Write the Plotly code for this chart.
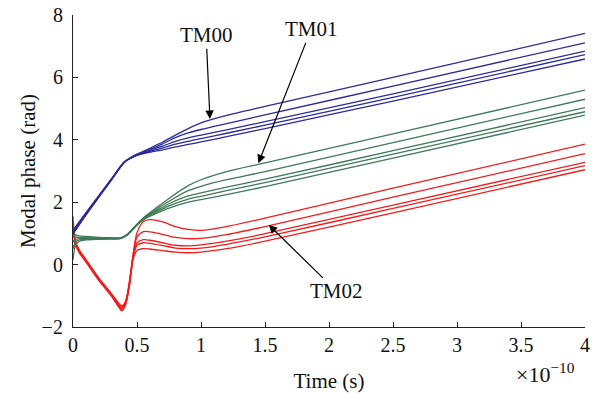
import plotly.graph_objects as go

# ---- data (time in units of 1e-10 s, phase in rad) ----
T_BLUE = [0, 0.1, 0.2, 0.3, 0.4, 0.45, 0.5, 0.6, 0.7, 0.8, 0.9, 1.0, 1.2, 1.5, 2.5, 4]
TM00 = [
    [0.98, 1.58, 2.15, 2.71, 3.27, 3.43, 3.54, 3.73, 3.93, 4.15, 4.36, 4.54, 4.78, 5.07, 6.00, 7.41],
    [1.01, 1.60, 2.17, 2.72, 3.28, 3.42, 3.53, 3.69, 3.87, 4.07, 4.22, 4.33, 4.52, 4.80, 5.72, 7.11],
    [1.04, 1.62, 2.18, 2.73, 3.28, 3.42, 3.52, 3.66, 3.80, 3.95, 4.06, 4.15, 4.32, 4.58, 5.47, 6.84],
    [1.07, 1.64, 2.19, 2.74, 3.29, 3.41, 3.51, 3.63, 3.74, 3.86, 3.95, 4.04, 4.21, 4.47, 5.36, 6.73],
    [1.10, 1.66, 2.20, 2.75, 3.29, 3.41, 3.50, 3.60, 3.68, 3.77, 3.85, 3.93, 4.10, 4.36, 5.24, 6.59],
]

T_GREEN = [0, 0.02, 0.05, 0.1, 0.2, 0.3, 0.37, 0.42, 0.47, 0.52, 0.57, 0.65, 0.75, 0.9, 1.0, 1.2, 1.5, 2.5, 4]
TM01 = [
    [1.00, 0.95, 0.92, 0.90, 0.87, 0.86, 0.86, 0.96, 1.17, 1.38, 1.57, 1.82, 2.12, 2.53, 2.72, 2.98, 3.26, 4.19, 5.59],
    [0.90, 0.88, 0.87, 0.86, 0.85, 0.85, 0.85, 0.95, 1.16, 1.37, 1.55, 1.77, 2.03, 2.37, 2.51, 2.72, 2.98, 3.91, 5.30],
    [0.75, 0.80, 0.83, 0.83, 0.83, 0.84, 0.84, 0.94, 1.15, 1.36, 1.53, 1.72, 1.95, 2.20, 2.30, 2.48, 2.74, 3.65, 5.03],
    [0.50, 0.72, 0.79, 0.81, 0.82, 0.83, 0.84, 0.94, 1.15, 1.35, 1.51, 1.68, 1.88, 2.10, 2.19, 2.37, 2.63, 3.54, 4.90],
    [0.15, 0.62, 0.75, 0.79, 0.81, 0.82, 0.83, 0.93, 1.14, 1.34, 1.49, 1.64, 1.81, 2.00, 2.08, 2.24, 2.50, 3.41, 4.79],
]

T_RED = [0, 0.02, 0.05, 0.1, 0.2, 0.3, 0.35, 0.38, 0.41, 0.44, 0.47, 0.5, 0.55, 0.6, 0.7, 0.8, 0.9, 1.0, 1.2, 1.5, 2.5, 4]
TM02 = [
    [1.55, 0.76, 0.47, 0.17, -0.42, -0.93, -1.20, -1.32, -1.18, -0.55, 0.35, 1.02, 1.38, 1.44, 1.37, 1.22, 1.13, 1.10, 1.22, 1.49, 2.45, 3.86],
    [1.30, 0.71, 0.44, 0.15, -0.44, -0.95, -1.23, -1.36, -1.21, -0.60, 0.30, 0.88, 1.06, 1.05, 0.97, 0.87, 0.83, 0.84, 0.96, 1.22, 2.16, 3.56],
    [1.05, 0.67, 0.42, 0.13, -0.46, -0.97, -1.26, -1.40, -1.24, -0.64, 0.26, 0.70, 0.80, 0.78, 0.70, 0.62, 0.60, 0.63, 0.75, 0.99, 1.91, 3.28],
    [0.80, 0.63, 0.40, 0.11, -0.48, -0.99, -1.29, -1.44, -1.27, -0.67, 0.22, 0.62, 0.70, 0.68, 0.61, 0.53, 0.51, 0.53, 0.65, 0.89, 1.80, 3.17],
    [0.60, 0.58, 0.37, 0.09, -0.50, -1.01, -1.32, -1.48, -1.30, -0.71, 0.18, 0.45, 0.51, 0.50, 0.45, 0.40, 0.38, 0.40, 0.51, 0.75, 1.66, 3.04],
]

X_TICKS = [0, 0.5, 1, 1.5, 2, 2.5, 3, 3.5, 4]
X_TICKTEXT = ["0", "0.5", "1", "1.5", "2", "2.5", "3", "3.5", "4"]
Y_TICKS = [-2, 0, 2, 4, 6, 8]
Y_TICKTEXT = ["\u22122", "0", "2", "4", "6", "8"]

# mode labels: text, label centre (t, y), arrow tip (t, y)
LABELS = ["TM00", "TM01", "TM02"]
LABEL_POS = [(1.04, 7.35), (1.86, 7.54), (2.06, -0.86)]
ARROW_TIP = [(1.07, 4.67), (1.448, 3.25), (1.53, 1.27)]

COLORS = {"TM00": "#2b2b9b", "TM01": "#3f7a58", "TM02": "#f21c1c"}
FONT = "Liberation Serif, Times New Roman, serif"

fig = go.Figure()
for t, group, name in [(T_RED, TM02, "TM02"), (T_GREEN, TM01, "TM01"), (T_BLUE, TM00, "TM00")]:
    for ys in group:
        fig.add_trace(go.Scatter(
            x=t, y=ys, mode="lines",
            line=dict(color=COLORS[name], width=1.3, shape="spline", smoothing=0.8),
            showlegend=False, hoverinfo="skip",
        ))

for txt, (lx, ly), (tx, ty) in zip(LABELS, LABEL_POS, ARROW_TIP):
    fig.add_annotation(x=tx, y=ty, ax=lx, ay=ly, xref="x", yref="y", axref="x", ayref="y",
                       text=txt, showarrow=True, arrowhead=2, arrowsize=1.4, arrowwidth=1.2,
                       arrowcolor="black", borderpad=1,
                       font=dict(family=FONT, size=21, color="#111"))

fig.add_annotation(x=0.984, y=-0.146, xref="paper", yref="paper", xanchor="right", yanchor="middle",
                   text="\u00d710<sup>\u221210</sup>", showarrow=False,
                   font=dict(family=FONT, size=22, color="#111"))

axis_common = dict(showline=True, linecolor="#222", linewidth=1.2, ticks="inside", ticklen=5,
                   tickwidth=1.2, tickcolor="#222", showgrid=False, zeroline=False, mirror=False,
                   automargin=False,
                   tickfont=dict(family=FONT, size=20, color="#111"))

fig.update_layout(
    width=600, height=394,
    margin=dict(l=73, r=15, t=15, b=67),
    paper_bgcolor="white", plot_bgcolor="white",
    font=dict(family=FONT, color="#111"),
    xaxis=dict(range=[0, 4], tickvals=X_TICKS, ticktext=X_TICKTEXT, ticklabelstandoff=0,
               title=dict(text="Time (s)", font=dict(family=FONT, size=21), standoff=18),
               **axis_common),
    yaxis=dict(range=[-2, 8], tickvals=Y_TICKS, ticktext=Y_TICKTEXT, ticklabelstandoff=5,
               title=dict(text="Modal phase (rad)", font=dict(family=FONT, size=21), standoff=0),
               **axis_common),
)

fig.write_html("out.html")
